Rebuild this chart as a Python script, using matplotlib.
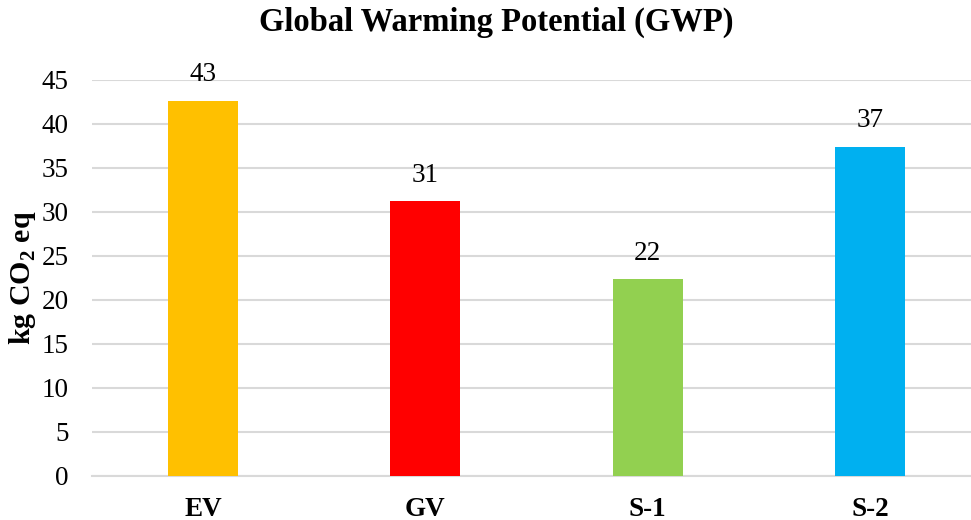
import matplotlib
matplotlib.use("Agg")
import matplotlib.pyplot as plt

categories = ["EV", "GV", "S-1", "S-2"]
gwp_values = [42.6, 31.2, 22.3, 37.4]
bar_colors = ["#FFC000", "#FF0000", "#92D050", "#00B0F0"]
y_ticks = [0, 5, 10, 15, 20, 25, 30, 35, 40, 45]

plt.rcParams["font.family"] = ["Liberation Serif", "DejaVu Serif"]
plt.rcParams["mathtext.fontset"] = "custom"
plt.rcParams["mathtext.rm"] = "Liberation Serif"
plt.rcParams["mathtext.bf"] = "Liberation Serif:bold"

fig = plt.figure(figsize=(9.71, 5.2), dpi=100)
ax = fig.add_axes([92 / 971, 1 - 475.7 / 520, 1 - 92 / 971, (475.7 - 79.7) / 520])

x = list(range(len(categories)))
bars = ax.bar(x, gwp_values, width=0.315, color=bar_colors, zorder=3)

for xi, v in zip(x, gwp_values):
    ax.annotate(f"{v:.0f}", xy=(xi, v), xytext=(0, 14), textcoords="offset points",
                ha="center", va="baseline", fontsize=19.5, color="#000000")

ax.set_xlim(-0.5, 3.455)
ax.set_ylim(0, 45)
ax.set_yticks(y_ticks)
ax.set_xticks(x)
ax.set_xticklabels(categories, fontsize=19.5, fontweight="bold")
ax.tick_params(axis="y", labelsize=19.5, length=0, pad=17)
ax.tick_params(axis="x", length=0, pad=15)

ax.grid(axis="y", color="#d9d9d9", linewidth=1.5, zorder=0)
for side in ["top", "right", "left"]:
    ax.spines[side].set_visible(False)
ax.spines["bottom"].set_color("#d9d9d9")
ax.spines["bottom"].set_linewidth(1.5)

fig.text(23 / 971, 1 - 278 / 520, r"kg CO$_{\mathbf{2}}$ eq", rotation=90,
         ha="center", va="center", fontsize=21.5, fontweight="bold")
fig.text(496 / 971, 1 - 22 / 520, "Global Warming Potential (GWP)",
         ha="center", va="center", fontsize=23.5, fontweight="bold")

fig.savefig("out.png", dpi=100)
